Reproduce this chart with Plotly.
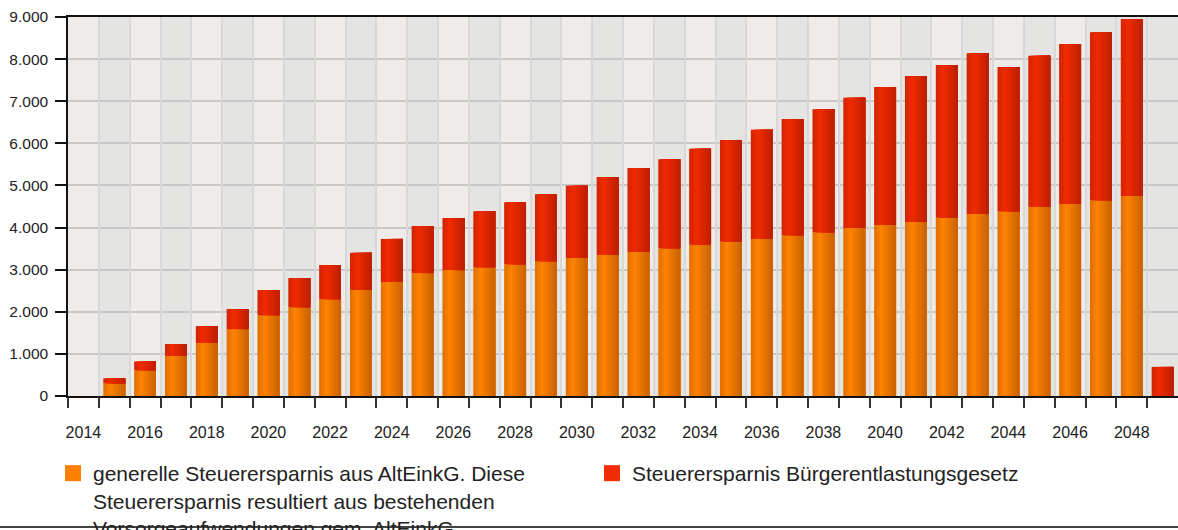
import plotly.graph_objects as go

# ---------------- data ----------------
years = list(range(2015, 2050))
generelle = [300, 610, 950, 1260, 1590, 1920, 2110, 2300, 2520, 2710,
             2920, 2990, 3060, 3130, 3200, 3280, 3350, 3420, 3510, 3590,
             3660, 3730, 3820, 3890, 3990, 4060, 4130, 4230, 4320, 4390,
             4490, 4560, 4650, 4750, 0]
buerger = [120, 210, 285, 400, 475, 595, 690, 810, 880, 1020,
           1115, 1235, 1330, 1470, 1590, 1710, 1850, 1995, 2115, 2280,
           2420, 2590, 2755, 2920, 3090, 3280, 3470, 3630, 3820, 3420,
           3590, 3800, 3990, 4200, 690]
tick_years = list(range(2014, 2049, 2))
y_ticks = list(range(0, 9001, 1000))
name_generelle = ("generelle Steuerersparnis aus AltEinkG. Diese<br>"
                  "Steuerersparnis resultiert aus bestehenden<br>"
                  "Vorsorgeaufwendungen gem. AltEinkG.")
name_buerger = "Steuerersparnis Bürgerentlastungsgesetz"

# ---------------- style ----------------
FONT = "Liberation Sans, Arial, sans-serif"
orange_stops = [(0.0, (0xdc, 0x6e, 0x00)), (0.32, (0xff, 0x82, 0x00)), (1.0, (0xc8, 0x62, 0x00))]
red_stops = [(0.0, (0xd0, 0x24, 0x00)), (0.32, (0xf0, 0x2a, 0x00)), (1.0, (0xbe, 0x1f, 0x00))]


def grad(stops, t):
    for (t0, c0), (t1, c1) in zip(stops[:-1], stops[1:]):
        if t0 <= t <= t1:
            f = (t - t0) / (t1 - t0)
            return "rgb(%d,%d,%d)" % tuple(round(a + (b - a) * f) for a, b in zip(c0, c1))
    return "rgb(%d,%d,%d)" % stops[-1][1]


fig = go.Figure()
N = 11
BW = 0.71
for series, base, stops in ((generelle, None, orange_stops), (buerger, generelle, red_stops)):
    for k in range(N):
        t = (k + 0.5) / N
        off = -BW / 2 + k * BW / N
        fig.add_trace(go.Bar(
            x=years, y=series, base=base, offset=off, width=BW / 2 - off,
            marker=dict(color=grad(stops, t), line=dict(width=0)),
            showlegend=False, hoverinfo="skip",
        ))

# legend entries
fig.add_trace(go.Scatter(x=[None], y=[None], mode="markers", xaxis="x2", name=name_generelle,
                         marker=dict(symbol="square", size=16, color="#ff8000")))
fig.add_trace(go.Scatter(x=[None], y=[None], mode="markers", xaxis="x2", name=name_buerger,
                         marker=dict(symbol="square", size=16, color="#f02c00")))

# geometry (page margin removed below, figure fills the window)
W, H = 1178, 530
ML, MT, MB = 68, 17, 134
PW, PH = W - ML, H - MT - MB  # 1110 x 379

# zebra background
shapes = []
for yr in range(2014, 2047, 2):
    shapes.append(dict(type="rect", xref="x", yref="paper", x0=yr - 0.5, x1=yr + 0.5, y0=0, y1=1,
                       fillcolor="#eeebe8", line=dict(width=0), layer="below"))
# bottom frame line
yb = -(MB - 3) / PH
shapes.append(dict(type="line", xref="paper", yref="paper", x0=-ML / PW, x1=1,
                   y0=yb, y1=yb, line=dict(color="#444444", width=2)))

xr = [2013.5, 2049.5]
fig.update_layout(
    width=W, height=H,
    margin=dict(l=ML, r=0, t=MT, b=MB, autoexpand=False),
    paper_bgcolor="white", plot_bgcolor="#e4e4e3",
    barmode="overlay",
    separators=",.",
    font=dict(family=FONT, size=15.5, color="#222222"),
    shapes=shapes,
    xaxis=dict(range=xr, tickmode="array", tickvals=tick_years, ticks="", showgrid=False,
               zeroline=False, showline=True, linecolor="#111111", linewidth=1.5, mirror=True,
               ticklabelstandoff=21, tickfont=dict(size=16)),
    xaxis2=dict(range=xr, overlaying="x", anchor="y", side="bottom", tickmode="array",
                tickvals=[y - 0.5 for y in range(2014, 2050)], ticks="outside", ticklen=11,
                tickcolor="#333333", tickwidth=1.5, showticklabels=False,
                showgrid=True, gridcolor="#d8d8d8", gridwidth=2, zeroline=False, showline=False),
    yaxis=dict(range=[0, 9000], tickmode="array", tickvals=y_ticks, tickformat=",d",
               ticks="outside", ticklen=11, tickcolor="#111111", tickwidth=1.5,
               showgrid=True, gridcolor="#c8c8c8", gridwidth=2, zeroline=False,
               showline=True, linecolor="#111111", linewidth=1.5,
               ticklabelstandoff=4, tickfont=dict(size=15.5)),
    legend=dict(orientation="h", x=-15 / PW, xanchor="left", y=-57 / PH,
                yanchor="top", font=dict(size=21, color="#222222"), valign="top",
                entrywidth=494, entrywidthmode="pixels", bgcolor="rgba(0,0,0,0)",
                traceorder="normal"),
    hovermode=False,
)

fig.write_html(
    "out.html",
    config={"displayModeBar": False},
    post_script="document.body.style.margin='0';"
                "document.documentElement.style.overflow='hidden';"
                "document.body.style.overflow='hidden';",
)
